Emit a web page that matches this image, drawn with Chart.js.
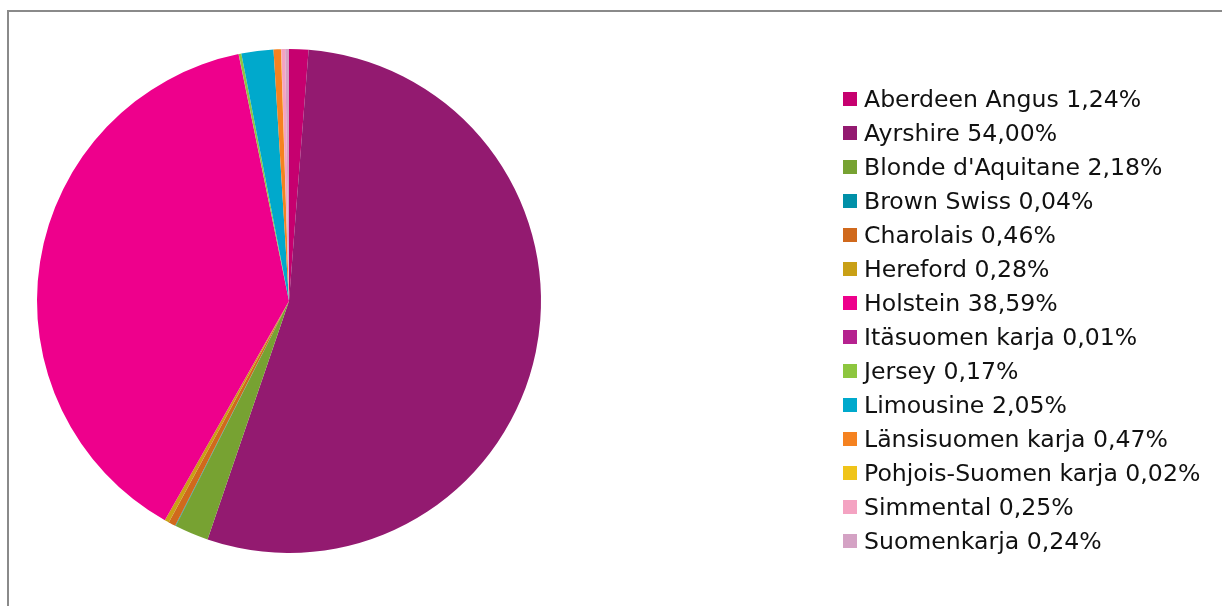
<!DOCTYPE html>
<html>
<head>
<meta charset="utf-8">
<script src="https://cdn.jsdelivr.net/npm/chart.js@4"></script>
<style>
  html, body { margin: 0; padding: 0; background: #fff; }
  #wrap { position: relative; width: 1222px; height: 606px; overflow: hidden; }
  #frame { position: absolute; left: 7px; top: 10px; right: -10px; bottom: -10px;
           border-left: 2px solid #8a8a8a; border-top: 2px solid #8a8a8a; }
  #chartBox { position: absolute; left: 0; top: 0; width: 1222px; height: 606px; }
  #legend { position: absolute; left: 843px; top: 82px; font-family: "DejaVu Sans", Verdana, sans-serif;
            font-size: 23.6px; color: #111; }
  .row { height: 34px; display: flex; align-items: center; white-space: nowrap; }
  .box { width: 14px; height: 14px; margin-right: 7px; flex: none; }
</style>
</head>
<body>
<div id="wrap">
  <div id="frame"></div>
  <div id="chartBox"><canvas id="piirakka"></canvas></div>
  <div id="legend"></div>
</div>
<script>
// rodut ja osuudet (%)
const rodut = ["Aberdeen Angus", "Ayrshire", "Blonde d'Aquitane", "Brown Swiss", "Charolais", "Hereford",
  "Holstein", "Itäsuomen karja", "Jersey", "Limousine", "Länsisuomen karja", "Pohjois-Suomen karja",
  "Simmental", "Suomenkarja"];
const osuudet = [1.24, 54.00, 2.18, 0.04, 0.46, 0.28, 38.59, 0.01, 0.17, 2.05, 0.47, 0.02, 0.25, 0.24];
const varit = ["#c6006f", "#931a70", "#77a232", "#0090a8", "#d0691c", "#c9a016", "#ee008c", "#b5228f",
  "#8dc63f", "#00a9cc", "#f58220", "#f0c419", "#f4a3c2", "#d4a2c4"];

function muotoile(v) {
  return v.toFixed(2).replace(".", ",") + "%";
}

// selite HTML:nä
const selite = document.getElementById("legend");
rodut.forEach((nimi, i) => {
  const rivi = document.createElement("div");
  rivi.className = "row";
  const ruutu = document.createElement("span");
  ruutu.className = "box";
  ruutu.style.background = varit[i];
  const teksti = document.createElement("span");
  teksti.textContent = nimi + " " + muotoile(osuudet[i]);
  rivi.appendChild(ruutu);
  rivi.appendChild(teksti);
  selite.appendChild(rivi);
});

const ctx = document.getElementById("piirakka").getContext("2d");
new Chart(ctx, {
  type: "pie",
  data: {
    labels: rodut,
    datasets: [{
      data: osuudet,
      backgroundColor: varit,
      borderWidth: 0
    }]
  },
  options: {
    responsive: true,
    maintainAspectRatio: false,
    animation: false,
    layout: {
      padding: { left: 37, right: 681, top: 49, bottom: 53 }
    },
    plugins: {
      legend: { display: false },
      tooltip: { enabled: false }
    }
  }
});
</script>
</body>
</html>
